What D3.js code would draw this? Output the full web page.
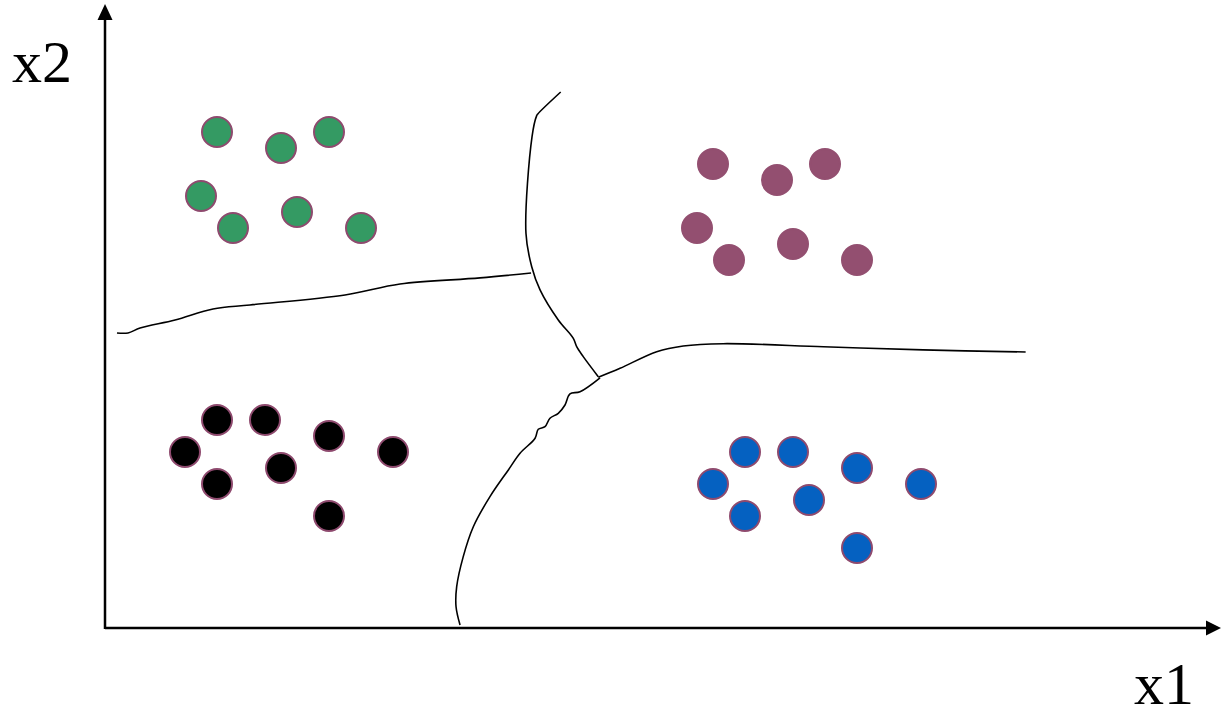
<!DOCTYPE html>
<html>
<head>
<meta charset="utf-8">
<script src="https://cdn.jsdelivr.net/npm/d3@7"></script>
<style>
  html, body { margin: 0; padding: 0; background: #fff; }
  svg { display: block; }
  text { font-family: "Liberation Serif", "Times New Roman", serif; }
</style>
</head>
<body>
<script>
// Cluster points (x1, x2)
const greenPts = [[7, 31], [11, 30], [14, 31], [6, 27], [8, 25], [12, 26], [16, 25]];
const purplePts = [[38, 29], [42, 28], [45, 29], [37, 25], [39, 23], [43, 24], [47, 23]];
const blackPts = [[7, 13], [10, 13], [5, 11], [14, 12], [18, 11], [7, 9], [11, 10], [14, 7]];
const bluePts = [[40, 11], [43, 11], [38, 9], [47, 10], [51, 9], [40, 7], [44, 8], [47, 5]];

// Hand-drawn decision boundaries
const leftBoundary = [[0.75, 18.44], [1.44, 18.44], [2.19, 18.75], [4.38, 19.25], [6.75, 19.94],
  [9.06, 20.19], [15, 20.81], [18.44, 21.5], [23.44, 21.88], [26.63, 22.19]];
const topBoundary = [[28.48, 33.5], [27.05, 32.13], [26.98, 32.02], [26.69, 30.71], [26.31, 24.67], [26.67, 22.58],
  [27.19, 21.13], [28.33, 19.25], [29.27, 18.1], [29.48, 17.58], [29.89, 16.96], [30.83, 15.71]];
const lowBoundary = [[30.94, 15.64], [29.69, 14.77], [29.06, 14.63], [28.75, 13.94], [28.33, 13.42],
  [27.81, 13.11], [27.5, 12.58], [27.08, 12.42], [26.88, 11.86], [25.94, 10.92], [25.21, 9.88],
  [24.06, 8.21], [23.02, 6.33], [22.39, 4.46], [21.98, 2.58], [21.94, 1.33], [22.19, 0.19]];
const rightBoundary = [[30.83, 15.67], [32.19, 16.23], [34.48, 17.27], [36.14, 17.63], [38.64, 17.77],
  [44.9, 17.58], [51.14, 17.38], [57.54, 17.25]];

const W = 1221, H = 717;
const svg = d3.select('body').append('svg')
  .attr('width', W)
  .attr('height', H);

// 1 unit = 16px, origin at the axes corner
const x = d3.scaleLinear().domain([0, 60]).range([105, 1065]);
const y = d3.scaleLinear().domain([0, 30]).range([628, 148]);

// axes with arrow heads
svg.append('line')
  .attr('x1', x(0)).attr('y1', y(0))
  .attr('x2', 1208).attr('y2', y(0))
  .attr('stroke', '#000').attr('stroke-width', 2.5);
svg.append('path')
  .attr('d', `M1221,${y(0)} L1206,${y(0) - 7.5} L1206,${y(0) + 7.5} Z`)
  .attr('fill', '#000');
svg.append('line')
  .attr('x1', x(0)).attr('y1', y(0) + 1)
  .attr('x2', x(0)).attr('y2', 18)
  .attr('stroke', '#000').attr('stroke-width', 2.5);
svg.append('path')
  .attr('d', `M${x(0)},4 L${x(0) - 7.5},20 L${x(0) + 7.5},20 Z`)
  .attr('fill', '#000');

svg.append('text').attr('x', 12).attr('y', 82)
  .attr('font-size', 60).text('x2');
svg.append('text').attr('x', 1134).attr('y', 704)
  .attr('font-size', 60).text('x1');

// boundaries
const line = d3.line()
  .x(d => x(d[0]))
  .y(d => y(d[1]))
  .curve(d3.curveCatmullRom.alpha(0.5));

[leftBoundary, topBoundary, lowBoundary, rightBoundary].forEach(b => {
  svg.append('path')
    .attr('d', line(b))
    .attr('fill', 'none')
    .attr('stroke', '#000')
    .attr('stroke-width', 1.6);
});

// clusters
const groups = [
  { pts: greenPts, fill: '#349a63', stroke: '#8e4a6e' },
  { pts: purplePts, fill: '#934f70', stroke: '#934f70' },
  { pts: blackPts, fill: '#000000', stroke: '#8e4a6e' },
  { pts: bluePts, fill: '#0561c1', stroke: '#8e4a6e' }
];

groups.forEach(g => {
  svg.append('g').selectAll('circle')
    .data(g.pts)
    .join('circle')
    .attr('cx', d => x(d[0]))
    .attr('cy', d => y(d[1]))
    .attr('r', 15)
    .attr('fill', g.fill)
    .attr('stroke', g.stroke)
    .attr('stroke-width', 2);
});
</script>
</body>
</html>
